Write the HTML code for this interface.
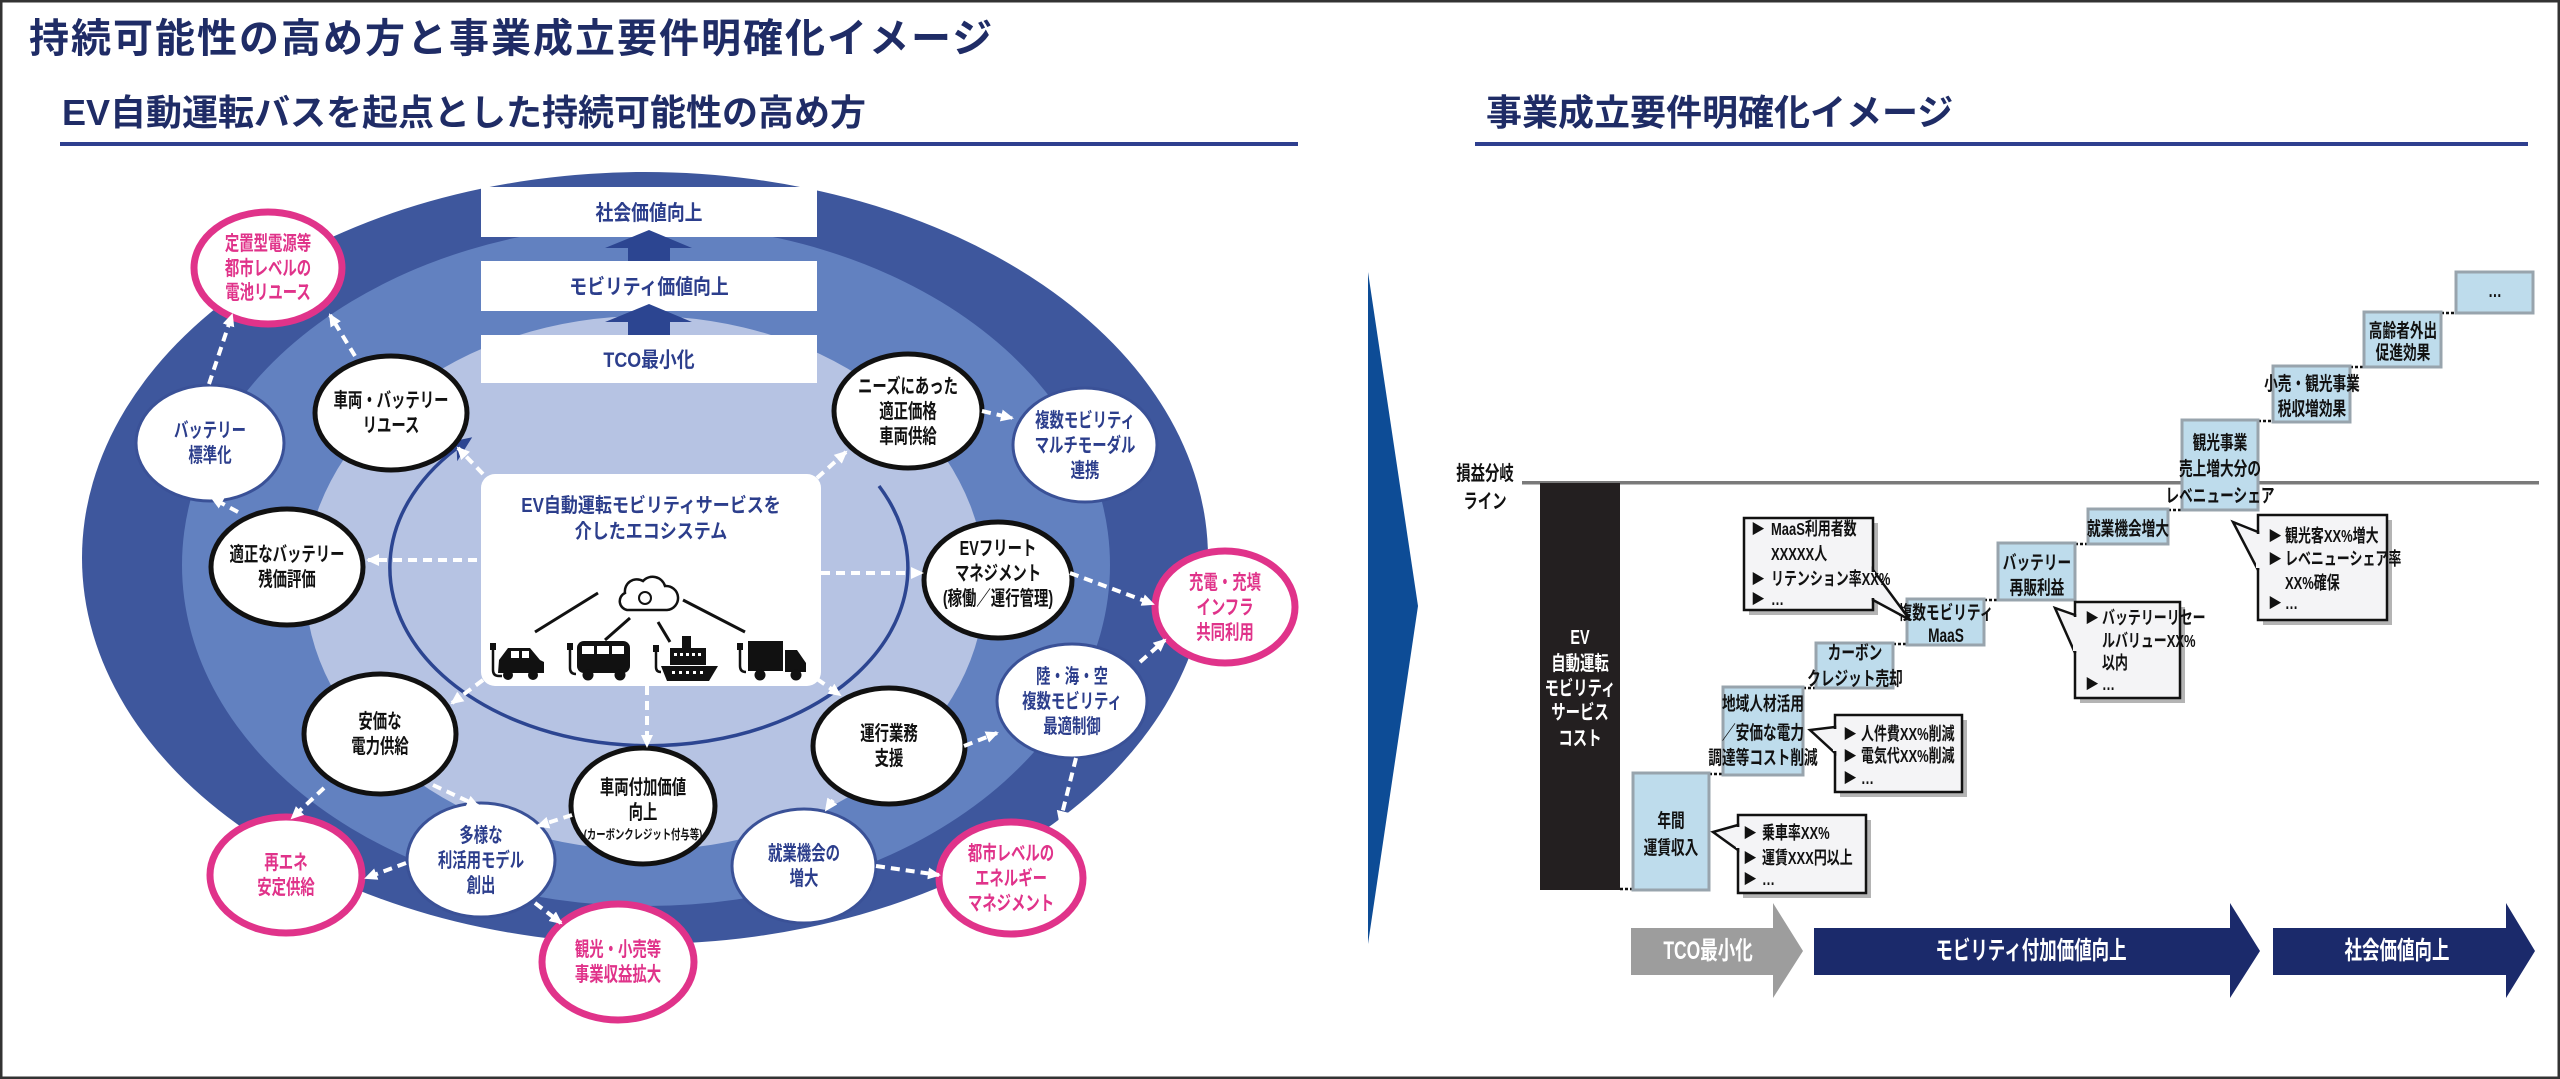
<!DOCTYPE html>
<html><head><meta charset="utf-8"><style>
html,body{margin:0;padding:0;background:#fff;}
body{width:2560px;height:1079px;overflow:hidden;}
svg{display:block}
text{font-family:"Liberation Sans","Noto Sans CJK JP",sans-serif;font-weight:700;}
.n{font-size:20px;fill:#111;text-anchor:middle}
.nb{font-size:20px;fill:#2c3e8c;text-anchor:middle}
.np{font-size:20px;fill:#e0338a;text-anchor:middle}
.bx{font-size:19px;fill:#111;text-anchor:middle}
.cl{font-size:18px;fill:#111}
.dash{stroke:#fff;stroke-width:4;stroke-dasharray:9 6;fill:none;marker-end:url(#wa)}
.dot{stroke:#111;stroke-width:2.5;stroke-dasharray:3 2;fill:none}
.box{fill:#bedcec;stroke:#98a4ad;stroke-width:3}
.call{fill:#f4f4f6;stroke:#111;stroke-width:2.5}
.sh{fill:#777;opacity:.55}
</style></head><body>
<svg width="2560" height="1079" viewBox="0 0 2560 1079" xmlns="http://www.w3.org/2000/svg">
<defs>
<marker id="wa" markerWidth="14" markerHeight="14" refX="11" refY="7" orient="auto" markerUnits="userSpaceOnUse"><path d="M0,1 L13,7 L0,13 z" fill="#fff"/></marker>
<marker id="na" markerWidth="30" markerHeight="30" refX="16" refY="15" orient="auto" markerUnits="userSpaceOnUse"><path d="M0,4 L26,15 L0,26 L7,15 z" fill="#2c4591"/></marker>
</defs>
<rect x="1" y="1" width="2558" height="1077" fill="#fff" stroke="#333" stroke-width="3"/>

<!-- titles -->
<text x="29" y="52" font-size="40" fill="#1f2c66" letter-spacing="2">持続可能性の高め方と事業成立要件明確化イメージ</text>
<text x="62" y="125" font-size="36" fill="#1f2c66">EV自動運転バスを起点とした持続可能性の高め方</text>
<rect x="60" y="142" width="1238" height="4" fill="#2e3f8f"/>
<text x="1486" y="125" font-size="36" fill="#1f2c66">事業成立要件明確化イメージ</text>
<rect x="1475" y="142" width="1053" height="4" fill="#2e3f8f"/>

<!-- ellipses -->
<ellipse cx="645" cy="558" rx="563" ry="386" fill="#3e579d"/>
<ellipse cx="646" cy="565" rx="464" ry="341" fill="#6281c0"/>
<ellipse cx="645" cy="583" rx="340" ry="267" fill="#b6c3e3"/>

<!-- top boxes -->
<rect x="481" y="187" width="336" height="50" fill="#fff"/>
<rect x="481" y="261" width="336" height="50" fill="#fff"/>
<rect x="481" y="335" width="336" height="48" fill="#fff"/>
<g fill="#2c4591">
<polygon points="649,230 692,248 670,248 670,261 628,261 628,248 605,248"/>
<polygon points="649,304 692,322 670,322 670,335 628,335 628,322 605,322"/>
</g>
<g transform="translate(649,220) scale(0.85,1)"><text font-size="21" fill="#2c3e8c" text-anchor="middle">社会価値向上</text></g>
<g transform="translate(649,294) scale(0.85,1)"><text font-size="21" fill="#2c3e8c" text-anchor="middle">モビリティ価値向上</text></g>
<g transform="translate(649,367) scale(0.85,1)"><text font-size="21" fill="#2c3e8c" text-anchor="middle">TCO最小化</text></g>

<!-- inner arc -->
<path d="M879,486 A259,178 0 1 1 464,443" fill="none" stroke="#2c4591" stroke-width="3.5" marker-end="url(#na)"/>

<!-- center box -->
<rect x="481" y="474" width="340" height="212" rx="14" fill="#fff"/>
<g transform="translate(651,512) scale(0.85,1)"><text font-size="20" fill="#2c3e8c" text-anchor="middle">EV自動運転モビリティサービスを</text></g>
<g transform="translate(651,538) scale(0.85,1)"><text font-size="20" fill="#2c3e8c" text-anchor="middle">介したエコシステム</text></g>
<!-- icons -->
<g stroke="#111" stroke-width="3" fill="none">
<line x1="535" y1="632" x2="598" y2="593"/><line x1="605" y1="640" x2="630" y2="618"/>
<line x1="670" y1="642" x2="658" y2="622"/><line x1="745" y1="632" x2="683" y2="600"/>
<path d="M627,610 a9,9 0 0 1 -2,-17 a12,12 0 0 1 18,-12 a13,13 0 0 1 22,5 a9,9 0 0 1 2,24 z" fill="#fff" stroke-width="2.5"/>
<circle cx="645" cy="598" r="6" stroke-width="2"/>
</g>
<g fill="#111">
<rect x="490" y="643" width="6" height="7"/><path d="M493,650 v20 q0,6 6,6 h3" stroke="#111" stroke-width="2.5" fill="none"/>
<polygon points="499,660 508,648 530,648 540,660 544,662 544,673 498,673"/>
<rect x="511" y="651" width="8" height="7" fill="#fff"/><rect x="522" y="651" width="7" height="7" fill="#fff"/>
<circle cx="508" cy="675" r="5"/><circle cx="533" cy="675" r="5"/>
<rect x="567" y="643" width="6" height="7"/><path d="M570,650 v18 q0,6 6,6" stroke="#111" stroke-width="2.5" fill="none"/>
<rect x="577" y="641" width="53" height="32" rx="7"/>
<rect x="582" y="646" width="12" height="8" fill="#fff"/><rect x="597" y="646" width="12" height="8" fill="#fff"/><rect x="612" y="646" width="12" height="8" fill="#fff"/>
<circle cx="588" cy="675" r="5.5"/><circle cx="620" cy="675" r="5.5"/>
<rect x="653" y="645" width="6" height="7"/><path d="M656,652 v15 q0,5 5,5" stroke="#111" stroke-width="2.5" fill="none"/>
<rect x="682" y="636" width="9" height="12"/><rect x="670" y="648" width="36" height="17"/>
<polygon points="661,666 718,666 709,681 667,681"/>
<g fill="#fff"><rect x="674" y="653" width="3" height="3"/><rect x="680" y="653" width="3" height="3"/><rect x="686" y="653" width="3" height="3"/><rect x="692" y="653" width="3" height="3"/><rect x="698" y="653" width="3" height="3"/>
<rect x="672" y="671" width="3" height="3"/><rect x="679" y="671" width="3" height="3"/><rect x="686" y="671" width="3" height="3"/><rect x="693" y="671" width="3" height="3"/><rect x="700" y="671" width="3" height="3"/></g>
<rect x="737" y="643" width="6" height="7"/><path d="M740,650 v16 q0,6 6,6" stroke="#111" stroke-width="2.5" fill="none"/>
<rect x="748" y="641" width="35" height="30"/><polygon points="785,650 797,650 806,663 806,672 785,672"/>
<circle cx="760" cy="675" r="5.5"/><circle cx="796" cy="675" r="5.5"/>
</g>

<!-- nodes: black bordered -->
<g fill="#fff" stroke="#111" stroke-width="5">
<ellipse cx="391" cy="413" rx="76" ry="57"/>
<ellipse cx="908" cy="411" rx="74" ry="57"/>
<ellipse cx="287" cy="567" rx="76" ry="58"/>
<ellipse cx="998" cy="580" rx="74" ry="58"/>
<ellipse cx="380" cy="734" rx="76" ry="60"/>
<ellipse cx="889" cy="746" rx="76" ry="58"/>
<ellipse cx="643" cy="806" rx="72" ry="58"/>
</g>
<g fill="#fff" stroke="#3a5197" stroke-width="3">
<ellipse cx="210" cy="443" rx="74" ry="58"/>
<ellipse cx="1085" cy="445" rx="72" ry="57"/>
<ellipse cx="1072" cy="701" rx="75" ry="57"/>
<ellipse cx="481" cy="860" rx="74" ry="57"/>
<ellipse cx="804" cy="866" rx="72" ry="57"/>
</g>
<g fill="#fff" stroke="#e0338a" stroke-width="7">
<ellipse cx="268" cy="268" rx="74" ry="56"/>
<ellipse cx="1225" cy="607" rx="70" ry="56"/>
<ellipse cx="1011" cy="878" rx="72" ry="56"/>
<ellipse cx="618" cy="962" rx="76" ry="58"/>
<ellipse cx="286" cy="875" rx="76" ry="58"/>
</g>

<!-- node texts -->
<g transform="translate(268,268) scale(0.72,1)"><text class="np" y="-18">定置型電源等</text><text class="np" y="7">都市レベルの</text><text class="np" y="31">電池リユース</text></g>
<g transform="translate(210,443) scale(0.72,1)"><text class="nb" y="-6">バッテリー</text><text class="nb" y="19">標準化</text></g>
<g transform="translate(391,413) scale(0.72,1)"><text class="n" y="-6">車両・バッテリー</text><text class="n" y="19">リユース</text></g>
<g transform="translate(908,411) scale(0.72,1)"><text class="n" y="-18">ニーズにあった</text><text class="n" y="7">適正価格</text><text class="n" y="32">車両供給</text></g>
<g transform="translate(1085,445) scale(0.72,1)"><text class="nb" y="-18">複数モビリティ</text><text class="nb" y="7">マルチモーダル</text><text class="nb" y="32">連携</text></g>
<g transform="translate(287,567) scale(0.72,1)"><text class="n" y="-6">適正なバッテリー</text><text class="n" y="19">残価評価</text></g>
<g transform="translate(998,580) scale(0.72,1)"><text class="n" y="-25">EVフリート</text><text class="n" y="0">マネジメント</text><text class="n" y="25">(稼働／運行管理)</text></g>
<g transform="translate(1225,607) scale(0.72,1)"><text class="np" y="-18">充電・充填</text><text class="np" y="7">インフラ</text><text class="np" y="32">共同利用</text></g>
<g transform="translate(380,734) scale(0.72,1)"><text class="n" y="-6">安価な</text><text class="n" y="19">電力供給</text></g>
<g transform="translate(889,746) scale(0.72,1)"><text class="n" y="-6">運行業務</text><text class="n" y="19">支援</text></g>
<g transform="translate(1072,701) scale(0.72,1)"><text class="nb" y="-18">陸・海・空</text><text class="nb" y="7">複数モビリティ</text><text class="nb" y="32">最適制御</text></g>
<g transform="translate(643,806) scale(0.72,1)"><text class="n" y="-12">車両付加価値</text><text class="n" y="13">向上</text><text class="n" y="33" style="font-size:13px">(カーボンクレジット付与等)</text></g>
<g transform="translate(481,860) scale(0.72,1)"><text class="nb" y="-18">多様な</text><text class="nb" y="7">利活用モデル</text><text class="nb" y="32">創出</text></g>
<g transform="translate(804,866) scale(0.72,1)"><text class="nb" y="-6">就業機会の</text><text class="nb" y="19">増大</text></g>
<g transform="translate(1011,878) scale(0.72,1)"><text class="np" y="-18">都市レベルの</text><text class="np" y="7">エネルギー</text><text class="np" y="32">マネジメント</text></g>
<g transform="translate(618,962) scale(0.72,1)"><text class="np" y="-6">観光・小売等</text><text class="np" y="19">事業収益拡大</text></g>
<g transform="translate(286,875) scale(0.72,1)"><text class="np" y="-6">再エネ</text><text class="np" y="19">安定供給</text></g>

<!-- dashed connectors -->
<g class="dash">
<line class="dash" x1="209" y1="384" x2="232" y2="315"/>
<line class="dash" x1="355" y1="356" x2="330" y2="315"/>
<line class="dash" x1="238" y1="512" x2="212" y2="498"/>
<line class="dash" x1="483" y1="474" x2="458" y2="448"/>
<line class="dash" x1="477" y1="560" x2="368" y2="560"/>
<line class="dash" x1="483" y1="680" x2="452" y2="703"/>
<line class="dash" x1="324" y1="788" x2="292" y2="818"/>
<line class="dash" x1="433" y1="785" x2="478" y2="806"/>
<line class="dash" x1="572" y1="815" x2="538" y2="826"/>
<line class="dash" x1="406" y1="863" x2="366" y2="878"/>
<line class="dash" x1="535" y1="903" x2="561" y2="923"/>
<line class="dash" x1="647" y1="686" x2="647" y2="746"/>
<line class="dash" x1="821" y1="573" x2="922" y2="573"/>
<line class="dash" x1="1070" y1="573" x2="1153" y2="604"/>
<line class="dash" x1="1140" y1="662" x2="1165" y2="640"/>
<line class="dash" x1="817" y1="679" x2="840" y2="695"/>
<line class="dash" x1="964" y1="746" x2="997" y2="733"/>
<line class="dash" x1="833" y1="800" x2="826" y2="810"/>
<line class="dash" x1="1076" y1="758" x2="1060" y2="822"/>
<line class="dash" x1="876" y1="866" x2="939" y2="875"/>
<line class="dash" x1="817" y1="478" x2="846" y2="452"/>
<line class="dash" x1="982" y1="411" x2="1012" y2="418"/>
</g>

<!-- divider chevron -->
<polygon points="1368,272 1418,606 1368,944" fill="#0d4c96"/>

<!-- right diagram -->
<g transform="translate(1485,480) scale(0.72,1)"><text font-size="20" fill="#111" text-anchor="middle">損益分岐</text></g>
<g transform="translate(1485,508) scale(0.72,1)"><text font-size="20" fill="#111" text-anchor="middle">ライン</text></g>
<rect x="1522" y="481" width="1017" height="3.5" fill="#7a7a7a"/>
<rect x="1540" y="483" width="80" height="407" fill="#231f20"/>
<g transform="translate(1580,0) scale(0.72,1)" fill="#fff" font-size="20" text-anchor="middle">
<text y="644">EV</text><text y="670">自動運転</text><text y="695">モビリティ</text><text y="719">サービス</text><text y="745">コスト</text></g>

<!-- dotted steps -->
<line class="dot" x1="1620" y1="889" x2="1633" y2="889"/>
<line class="dot" x1="1709" y1="774" x2="1723" y2="774"/>
<line class="dot" x1="1803" y1="688" x2="1816" y2="688"/>
<line class="dot" x1="1893" y1="644" x2="1907" y2="644"/>
<line class="dot" x1="1984" y1="600" x2="1998" y2="600"/>
<line class="dot" x1="2075" y1="544" x2="2088" y2="544"/>
<line class="dot" x1="2168" y1="510" x2="2182" y2="510"/>
<line class="dot" x1="2258" y1="421" x2="2273" y2="421"/>
<line class="dot" x1="2350" y1="367" x2="2364" y2="367"/>
<line class="dot" x1="2441" y1="313" x2="2456" y2="313"/>

<!-- boxes -->
<rect class="box" x="1633" y="773" width="76" height="117"/>
<rect class="box" x="1723" y="687" width="80" height="88"/>
<rect class="box" x="1816" y="643" width="77" height="45"/>
<rect class="box" x="1907" y="599" width="77" height="46"/>
<rect class="box" x="1998" y="543" width="77" height="57"/>
<rect class="box" x="2088" y="509" width="80" height="35"/>
<rect class="box" x="2182" y="420" width="76" height="90"/>
<rect class="box" x="2273" y="366" width="77" height="56"/>
<rect class="box" x="2364" y="312" width="77" height="55"/>
<rect class="box" x="2456" y="272" width="77" height="41"/>
<g transform="translate(1671,0) scale(0.72,1)"><text class="bx" y="827">年間</text><text class="bx" y="854">運賃収入</text></g>
<g transform="translate(1763,0) scale(0.72,1)"><text class="bx" y="710">地域人材活用</text><text class="bx" y="739">／安価な電力</text><text class="bx" y="764">調達等コスト削減</text></g>
<g transform="translate(1855,0) scale(0.72,1)"><text class="bx" y="659">カーボン</text><text class="bx" y="685">クレジット売却</text></g>
<g transform="translate(1946,0) scale(0.72,1)"><text class="bx" y="619">複数モビリティ</text><text class="bx" y="642">MaaS</text></g>
<g transform="translate(2037,0) scale(0.72,1)"><text class="bx" y="569">バッテリー</text><text class="bx" y="594">再販利益</text></g>
<g transform="translate(2128,0) scale(0.72,1)"><text class="bx" y="535">就業機会増大</text></g>
<g transform="translate(2220,0) scale(0.72,1)"><text class="bx" y="449">観光事業</text><text class="bx" y="475">売上増大分の</text><text class="bx" y="502">レベニューシェア</text></g>
<g transform="translate(2312,0) scale(0.72,1)"><text class="bx" y="390">小売・観光事業</text><text class="bx" y="415">税収増効果</text></g>
<g transform="translate(2403,0) scale(0.72,1)"><text class="bx" y="337">高齢者外出</text><text class="bx" y="359">促進効果</text></g>
<g transform="translate(2495,0) scale(0.72,1)"><text class="bx" y="297">…</text></g>

<!-- callouts -->
<!-- MaaS -->
<rect class="sh" x="1749" y="523" width="129" height="92"/>
<rect class="call" x="1744" y="518" width="129" height="92"/>
<polygon class="call" points="1873,570 1910,620 1873,600"/><rect x="1870" y="572" width="5" height="26" fill="#f4f4f6"/>
<!-- battery -->
<rect class="sh" x="2080" y="607" width="105" height="96"/>
<rect class="call" x="2075" y="602" width="105" height="96"/>
<polygon class="call" points="2075,615 2055,608 2075,653"/><rect x="2073" y="617" width="5" height="34" fill="#f4f4f6"/>
<!-- kanko -->
<rect class="sh" x="2263" y="520" width="129" height="105"/>
<rect class="call" x="2258" y="515" width="129" height="105"/>
<polygon class="call" points="2258,532 2233,522 2258,570"/><rect x="2256" y="534" width="5" height="34" fill="#f4f4f6"/>
<!-- jinkenhi -->
<rect class="sh" x="1840" y="720" width="127" height="77"/>
<rect class="call" x="1835" y="715" width="127" height="77"/>
<polygon class="call" points="1835,727 1810,730 1835,753"/><rect x="1833" y="729" width="5" height="22" fill="#f4f4f6"/>
<!-- josha -->
<rect class="sh" x="1743" y="820" width="128" height="78"/>
<rect class="call" x="1738" y="815" width="128" height="78"/>
<polygon class="call" points="1738,825 1713,832 1738,850"/><rect x="1736" y="827" width="5" height="21" fill="#f4f4f6"/>

<g font-size="14" fill="#111">
<text x="1751" y="534">▶</text><text x="1751" y="584">▶</text><text x="1751" y="604">▶</text>
<text x="2085" y="623">▶</text><text x="2085" y="689">▶</text>
<text x="2268" y="541">▶</text><text x="2268" y="564">▶</text><text x="2268" y="608">▶</text>
<text x="1843" y="739">▶</text><text x="1843" y="761">▶</text><text x="1843" y="783">▶</text>
<text x="1743" y="838">▶</text><text x="1743" y="863">▶</text><text x="1743" y="884">▶</text>
</g>
<g transform="translate(1771,0) scale(0.72,1)"><text class="cl" y="535">MaaS利用者数</text><text class="cl" y="560">XXXXX人</text><text class="cl" y="585">リテンション率XX%</text><text class="cl" y="605">…</text></g>
<g transform="translate(2102,0) scale(0.72,1)"><text class="cl" y="624">バッテリーリセー</text><text class="cl" y="647">ルバリューXX%</text><text class="cl" y="669">以内</text><text class="cl" y="690">…</text></g>
<g transform="translate(2285,0) scale(0.72,1)"><text class="cl" y="542">観光客XX%増大</text><text class="cl" y="565">レベニューシェア率</text><text class="cl" y="589">XX%確保</text><text class="cl" y="609">…</text></g>
<g transform="translate(1861,0) scale(0.72,1)"><text class="cl" y="740">人件費XX%削減</text><text class="cl" y="762">電気代XX%削減</text><text class="cl" y="784">…</text></g>
<g transform="translate(1762,0) scale(0.72,1)"><text class="cl" y="839">乗車率XX%</text><text class="cl" y="864">運賃XXX円以上</text><text class="cl" y="885">…</text></g>

<!-- bottom arrows -->
<polygon points="1631,928 1773,928 1773,903 1803,951 1773,998 1773,975 1631,975" fill="#9d9d9d"/>
<polygon points="1814,928 2230,928 2230,903 2260,951 2230,998 2230,975 1814,975" fill="#1b2a6b"/>
<polygon points="2273,928 2506,928 2506,903 2535,951 2506,998 2506,975 2273,975" fill="#1b2a6b"/>
<g transform="translate(1708,959) scale(0.7,1)"><text font-size="25" fill="#fff" text-anchor="middle">TCO最小化</text></g>
<g transform="translate(2031,959) scale(0.7,1)"><text font-size="25" fill="#fff" text-anchor="middle">モビリティ付加価値向上</text></g>
<g transform="translate(2397,959) scale(0.7,1)"><text font-size="25" fill="#fff" text-anchor="middle">社会価値向上</text></g>
</svg>
</body></html>
